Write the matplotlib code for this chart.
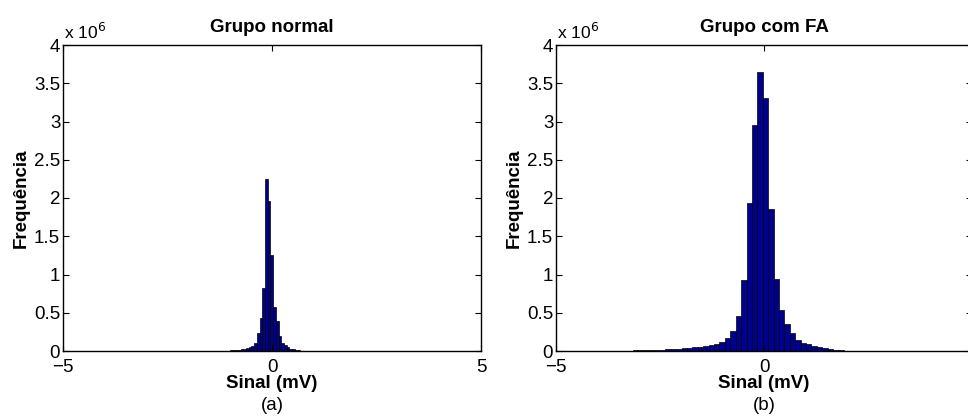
import numpy as np
import matplotlib
matplotlib.use('Agg')
import matplotlib.pyplot as plt
from matplotlib.ticker import FormatStrFormatter

plt.rcParams['font.family'] = ['Liberation Sans', 'DejaVu Sans']

# histogram bins (mV) and counts in units of 10^6
normal_first_center = -0.135
normal_bin_width = 0.065
normal_k = np.arange(-20, 19)
normal_freq = [0.001, 0.0015, 0.002, 0.0025, 0.003, 0.004, 0.005, 0.007, 0.009, 0.012,
               0.016, 0.021, 0.028, 0.037, 0.05, 0.07, 0.10, 0.23, 0.43, 0.83,
               2.25, 1.96, 1.26, 0.58, 0.39, 0.20, 0.11, 0.075, 0.05, 0.032,
               0.021, 0.014, 0.009, 0.006, 0.004, 0.003, 0.002, 0.0015, 0.001]

fa_first_center = -0.095
fa_bin_width = 0.13
fa_k = np.arange(-30, 19)
fa_freq = [0.001, 0.0015, 0.002, 0.0025, 0.003, 0.004, 0.005, 0.007, 0.009, 0.011,
           0.013, 0.016, 0.019, 0.022, 0.026, 0.031, 0.037, 0.044, 0.05, 0.057,
           0.066, 0.077, 0.093, 0.12, 0.17, 0.26, 0.46, 0.93, 1.93, 2.95,
           3.65, 3.31, 1.85, 0.935, 0.53, 0.35, 0.23, 0.14, 0.11, 0.087,
           0.065, 0.05, 0.035, 0.022, 0.013, 0.007, 0.004, 0.002, 0.001]

titles = ['Grupo normal', 'Grupo com FA']
letters = ['(a)', '(b)']
yticks = [0, 0.5, 1, 1.5, 2, 2.5, 3, 3.5, 4]
xticks = [-5, 0, 5]

fig = plt.figure(figsize=(9.68, 4.16), dpi=100)
ax1 = fig.add_axes([63/968, 65/416, 418/968, 306/416])
ax2 = fig.add_axes([556/968, 65/416, 416/968, 306/416])

bar_color = (0, 0, 0.5625)
ax1.bar(normal_first_center + normal_bin_width*normal_k, normal_freq, width=normal_bin_width,
        color=bar_color, edgecolor='black', linewidth=0.5)
ax2.bar(fa_first_center + fa_bin_width*fa_k, fa_freq, width=fa_bin_width,
        color=bar_color, edgecolor='black', linewidth=0.5)

for i, (ax, t, lt) in enumerate(zip([ax1, ax2], titles, letters)):
    ax.set_xlim(-5, 5)
    ax.set_ylim(0, 4)
    ax.set_xticks(xticks)
    if i == 0:
        ax.set_xticklabels(['\u22125', '0', '5'])
    else:
        # right edge of this panel is cut off in the original
        ax.set_xticklabels(['\u22125', '0', ''])
    ax.set_yticks(yticks)
    ax.yaxis.set_major_formatter(FormatStrFormatter('%g'))
    ax.tick_params(direction='in', top=True, right=True, labelsize=13.5, length=4, width=0.8)
    ax.tick_params(axis='x', pad=6)
    ax.tick_params(axis='y', pad=2)
    for s in ax.spines.values():
        s.set_linewidth(1.0)
    ax.set_title(t, fontsize=13.5, fontweight='bold', pad=9)
    ax.set_xlabel('Sinal (mV)', fontsize=13.5, fontweight='bold', labelpad=-1)
    ax.set_ylabel('Frequência', fontsize=13.5, fontweight='bold', labelpad=3)
    ax.text(0.002, 1.01, r'x 10$^{6}$', transform=ax.transAxes, fontsize=12.5,
            ha='left', va='bottom')
    x0 = ax.get_position().x0 + ax.get_position().width / 2
    if i == 1:
        x0 = 764 / 968
    fig.text(x0, 10/416, lt, fontsize=13.5, ha='center', va='center')

fig.savefig('out.png', dpi=100)
